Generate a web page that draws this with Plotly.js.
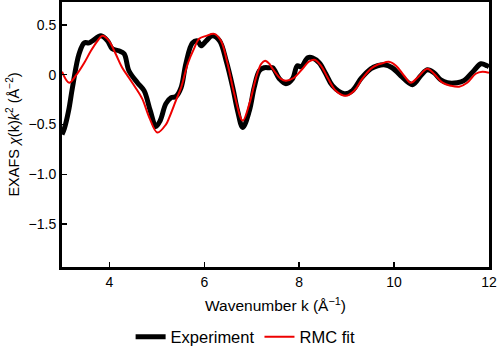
<!DOCTYPE html>
<html>
<head>
<meta charset="utf-8">
<script src="https://cdn.plot.ly/plotly-3.0.1.min.js"></script>
<style>html,body{margin:0;padding:0;background:#fff;}#chart{width:500px;height:352px;}</style>
</head>
<body>
<div id="chart"></div>
<script>
// Experiment (black, thick)
var expK = [3.0, 3.05, 3.14, 3.22, 3.36, 3.47, 3.57, 3.64, 3.82, 3.96, 4.06, 4.2, 4.31, 4.41, 4.59, 4.73, 4.86, 4.98, 5.07, 5.19, 5.3, 5.4, 5.51, 5.61, 5.75, 5.86, 5.93, 6.04, 6.17, 6.32, 6.46, 6.6, 6.7, 6.81, 6.95, 7.05, 7.16, 7.26, 7.37, 7.44, 7.58, 7.72, 7.86, 7.96, 8.04, 8.18, 8.28, 8.42, 8.56, 8.7, 8.95, 9.12, 9.3, 9.51, 9.65, 9.79, 9.96, 10.14, 10.39, 10.56, 10.7, 10.84, 10.98, 11.12, 11.33, 11.47, 11.68, 11.83, 11.96, 12.0];
var expY = [-0.6, -0.54, -0.36, -0.13, 0.21, 0.32, 0.32, 0.34, 0.39, 0.34, 0.26, 0.24, 0.21, 0.04, -0.08, -0.16, -0.36, -0.52, -0.46, -0.29, -0.23, -0.22, -0.13, 0.11, 0.32, 0.34, 0.29, 0.34, 0.39, 0.34, 0.14, -0.13, -0.36, -0.53, -0.36, -0.13, 0.04, 0.07, 0.07, 0.07, -0.04, -0.09, -0.04, 0.09, 0.08, 0.17, 0.17, 0.12, 0.01, -0.11, -0.19, -0.16, -0.04, 0.06, 0.09, 0.10, 0.07, -0.01, -0.10, -0.01, 0.05, 0.02, -0.05, -0.08, -0.08, -0.06, 0.04, 0.11, 0.09, 0.08];
// RMC fit (red, thin)
var fitK = [3.0, 3.15, 3.29, 3.47, 3.61, 3.75, 3.85, 3.99, 4.13, 4.27, 4.41, 4.55, 4.69, 4.84, 5.01, 5.19, 5.26, 5.4, 5.51, 5.65, 5.79, 5.89, 6.04, 6.21, 6.35, 6.49, 6.63, 6.81, 6.95, 7.09, 7.2, 7.28, 7.37, 7.44, 7.61, 7.72, 7.89, 8.07, 8.2, 8.32, 8.46, 8.6, 8.77, 8.98, 9.16, 9.33, 9.51, 9.65, 9.72, 9.89, 10.04, 10.21, 10.35, 10.49, 10.7, 10.84, 11.02, 11.19, 11.37, 11.54, 11.72, 11.86, 12.0];
var fitY = [0.03, -0.08, -0.01, 0.12, 0.24, 0.34, 0.39, 0.34, 0.21, 0.07, -0.03, -0.13, -0.24, -0.43, -0.58, -0.5, -0.43, -0.26, -0.13, 0.11, 0.27, 0.36, 0.39, 0.41, 0.34, 0.11, -0.19, -0.46, -0.29, -0.03, 0.11, 0.14, 0.11, 0.06, -0.04, -0.06, -0.03, 0.06, 0.13, 0.15, 0.09, -0.03, -0.16, -0.21, -0.16, -0.04, 0.06, 0.10, 0.11, 0.13, 0.09, -0.01, -0.08, -0.03, 0.06, 0.01, -0.08, -0.11, -0.12, -0.08, 0.01, 0.03, 0.02];
var yTickVals = [0.5, 0, -0.5, -1.0, -1.5];
var yTickText = ['0.5', '0', '\u22120.5', '\u22121.0', '\u22121.5'];
var xTickVals = [4, 6, 8, 10, 12];

var traces = [
  {x: expK, y: expY, type: 'scatter', mode: 'lines', name: 'Experiment',
   line: {color: '#000000', width: 5, shape: 'spline', smoothing: 1}},
  {x: fitK, y: fitY, type: 'scatter', mode: 'lines', name: 'RMC fit',
   line: {color: '#ee0000', width: 2, shape: 'spline', smoothing: 1}}
];
var fam = '"Liberation Sans", Arial, sans-serif';
var tickFont = {family: fam, size: 14, color: '#000'};
var layout = {
  width: 500, height: 352,
  margin: {l: 62, r: 11, t: 2, b: 85, autoexpand: false},
  paper_bgcolor: '#fff', plot_bgcolor: '#fff',
  font: tickFont,
  showlegend: true,
  legend: {orientation: 'h', x: 0.43, xanchor: 'center', y: -0.264, yanchor: 'middle',
           font: {family: fam, size: 16.5, color: '#000'}, itemwidth: 30, tracegroupgap: 0},
  xaxis: {range: [3, 12], tickvals: xTickVals, ticks: 'inside', ticklen: 5, tickwidth: 1.5, tickcolor: '#000',
          showline: true, linewidth: 3, linecolor: '#000', mirror: true, showgrid: false, zeroline: false,
          tickfont: tickFont,
          title: {text: 'Wavenumber k (\u00C5<sup>\u22121</sup>)', font: {family: fam, size: 15.5, color: '#000'}, standoff: 12}},
  yaxis: {range: [-1.93, 0.73], tickvals: yTickVals, ticktext: yTickText, ticks: 'inside', ticklen: 5, tickwidth: 1.5, tickcolor: '#000',
          showline: true, linewidth: 3, linecolor: '#000', mirror: true, showgrid: false, zeroline: false,
          tickfont: tickFont,
          title: {text: 'EXAFS <i>\u03C7</i>(k)<i>k</i><sup>2</sup> (\u00C5<sup>\u22122</sup>)', font: {family: fam, size: 14.5, color: '#000'}, standoff: 6}}
};
Plotly.newPlot('chart', traces, layout, {displayModeBar: false, staticPlot: true});
</script>
</body>
</html>
